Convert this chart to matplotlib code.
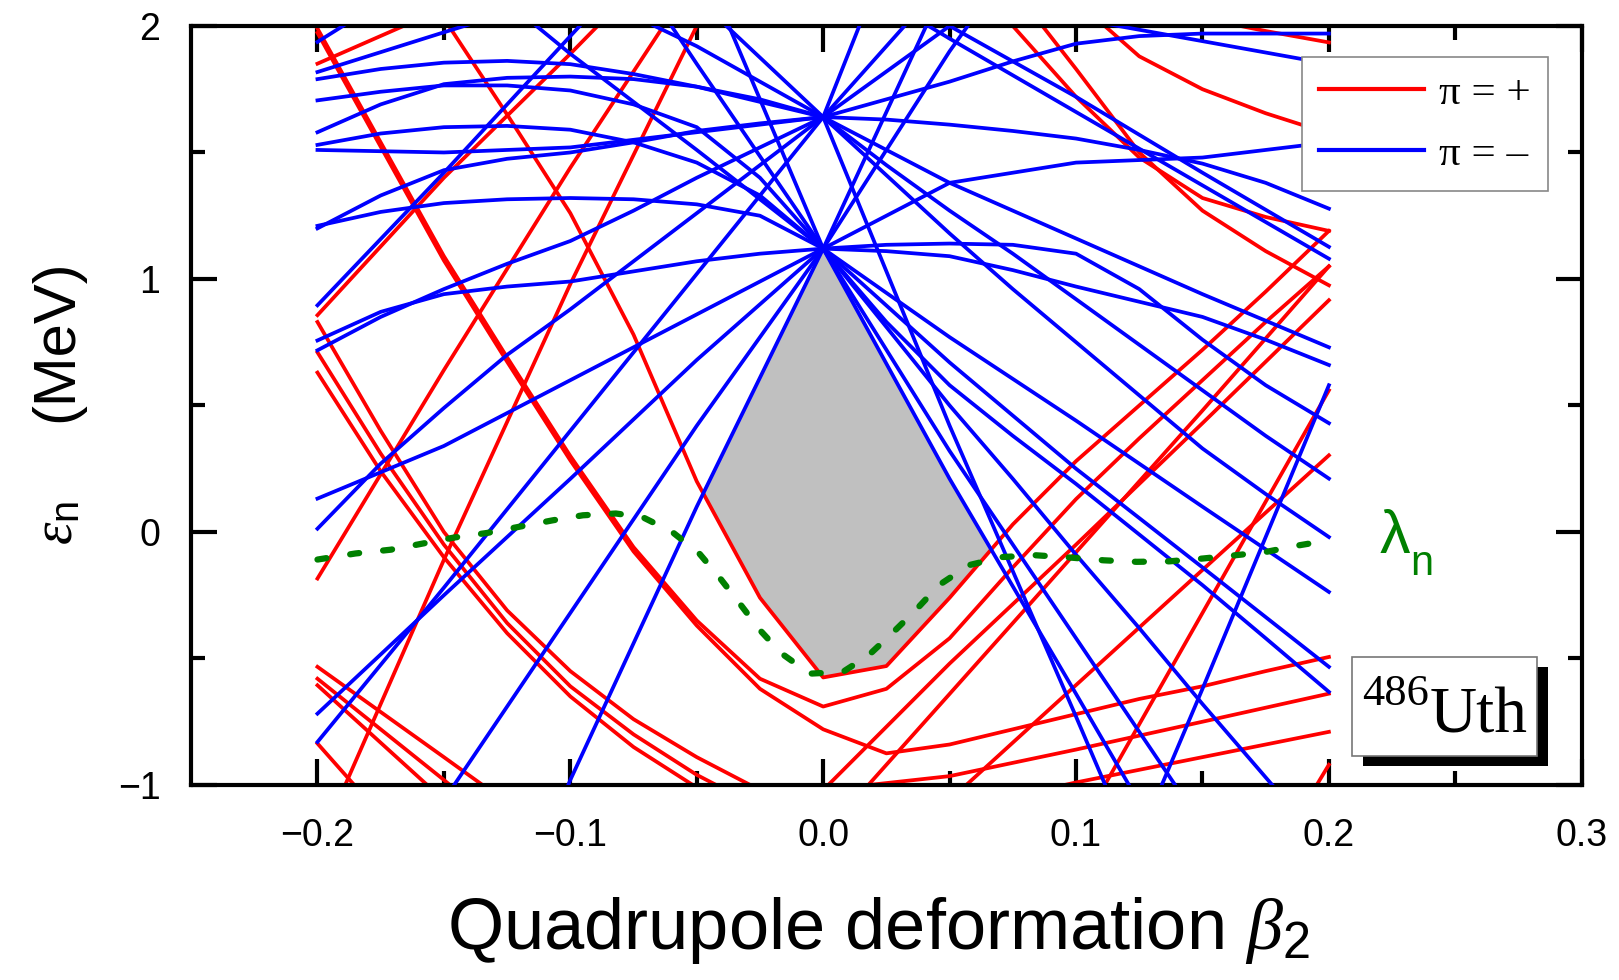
import numpy as np
import matplotlib
matplotlib.use("Agg")
import matplotlib.pyplot as plt
from matplotlib.patches import Rectangle
from matplotlib.lines import Line2D

plt.rcParams['font.family'] = ['Liberation Sans', 'DejaVu Sans']
plt.rcParams['mathtext.fontset'] = 'custom'
plt.rcParams['mathtext.rm'] = 'Liberation Sans'
plt.rcParams['mathtext.it'] = 'Liberation Serif:italic'

# Deformation grids on which the single-particle levels are tabulated
BETA = [-0.2, -0.15, -0.1, -0.05, 0.0, 0.05, 0.1, 0.15, 0.2]
BETA_FINE = [-0.2, -0.175, -0.15, -0.125, -0.1, -0.075, -0.05, -0.025, 0.0,
             0.025, 0.05, 0.075, 0.1, 0.125, 0.15, 0.175, 0.2]

# Negative-parity neutron levels (MeV) on BETA
BLUE_LEVELS = [
    [-3.16, -2.2, -0.98, 0.10, 1.12, 2.2, 3.2, 4.2, 5.2],
    [-1.80, -1.06, -0.32, 0.42, 1.12, 0.21, -0.64, -1.5, -2.36],
    [-0.718, -0.25, 0.21, 0.68, 1.12, 1.90, 2.6, 3.4, 4.1],
    [0.132, 0.34, 0.60, 0.86, 1.12, 0.32, -0.42, -1.16, -1.9],
    [3.4, 3.0, 2.6, 1.85, 1.12, 0.67, 0.25, -0.14, -0.533],
    [4.5, 3.9, 3.2, 2.3, 1.12, 0.77, 0.44, 0.10, -0.237],
    [2.7, 2.3, 1.89, 1.51, 1.12, 1.38, 1.46, 1.48, 1.54],
    [-0.83, -0.22, 0.40, 1.02, 1.64, 2.0, 2.35, 2.7, 3.0],
    [3.6, 3.1, 2.6, 2.11, 1.64, 0.42, -0.73, -1.9, -3.0],
    [1.51, 1.50, 1.52, 1.58, 1.64, 1.38, 1.16, 0.94, 0.73],
    [1.937, 2.25, 2.55, 2.85, 3.15, 3.45, 3.75, 4.05, 4.35],
    [1.818, 1.975, 2.13, 2.3, 2.45, 2.6, 2.75, 2.9, 3.05],
    [0.896, 1.42, 1.96, 2.5, 3.0, 3.5, 4.0, 4.5, 5.0],
    [4.0, 3.6, 3.2, 2.8, 2.3, 2.0, 1.72, 1.42, 1.127],
    [4.0, 3.6, 3.2, 2.75, 2.25, 1.95, 1.66, 1.37, 1.08],
    [4.0, 3.6, 3.2, 2.8, 2.45, 2.2, 2.03, 1.94, 1.85],
    [-9.2, -8.0, -6.8, -5.6, -4.4, -3.0, -1.8, -0.62, 0.58],
]

# Curved negative-parity levels (MeV) on BETA_FINE
BLUE_CURVED = [
    [0.757, 0.87, 0.94, 0.97, 0.99, 1.03, 1.07, 1.10, 1.12, 1.135, 1.14,
     1.135, 1.10, 0.96, 0.76, 0.58, 0.43],
    [1.21, 1.265, 1.30, 1.315, 1.32, 1.315, 1.295, 1.25, 1.12, 1.11, 1.09,
     1.035, 0.97, 0.91, 0.85, 0.76, 0.66],
    [1.706, 1.74, 1.765, 1.765, 1.745, 1.69, 1.60, 1.40, 1.12, 0.81, 0.50,
     0.21, -0.09, -0.38, -0.68, -0.97, -1.26],
    [1.53, 1.575, 1.60, 1.605, 1.59, 1.54, 1.46, 1.33, 1.12, 0.83, 0.58,
     0.38, 0.19, -0.01, -0.21, -0.42, -0.632],
    [1.79, 1.83, 1.855, 1.862, 1.849, 1.81, 1.76, 1.70, 1.64, 1.63, 1.61,
     1.585, 1.555, 1.51, 1.456, 1.38, 1.278],
    [2.6, 2.5, 2.4, 2.28, 2.16, 2.04, 1.92, 1.78, 1.64, 1.71, 1.78, 1.86,
     1.93, 1.96, 1.97, 1.97, 1.97],
    [1.20, 1.33, 1.43, 1.475, 1.50, 1.54, 1.585, 1.615, 1.64, 1.41, 1.18,
     0.96, 0.75, 0.54, 0.33, 0.15, -0.02],
    [0.718, 0.85, 0.96, 1.06, 1.15, 1.27, 1.40, 1.52, 1.64, 1.45, 1.27,
     1.10, 0.92, 0.74, 0.56, 0.38, 0.211],
    [0.013, 0.27, 0.49, 0.70, 0.88, 1.07, 1.26, 1.45, 1.64, 1.92, 2.2, 2.5,
     2.8, 3.1, 3.4, 3.7, 4.0],
    [1.58, 1.69, 1.77, 1.795, 1.80, 1.79, 1.76, 1.71, 1.64, 2.27, 2.9, 3.5,
     4.1, 4.7, 5.4, 6.0, 6.6],
]

# Positive-parity neutron levels (MeV) on BETA
RED_LEVELS = [
    [1.851, 2.07, 2.3, 2.5, 2.7, 2.9, 3.1, 3.3, 3.5],
    [0.857, 1.40, 1.89, 2.4, 2.9, 3.4, 3.9, 4.4, 4.9],
    [-0.184, 0.64, 1.44, 2.2, 3.0, 3.8, 4.6, 5.4, 6.2],
    [-1.25, -0.11, 0.98, 2.0, 3.0, 4.0, 5.0, 6.0, 7.0],
    [-0.533, -0.89, -1.25, -1.6, -1.95, -2.3, -2.65, -3.0, -3.35],
    [-0.58, -0.98, -1.4, -1.8, -2.2, -2.6, -3.0, -3.4, -3.8],
    [-0.606, -1.06, -1.5, -1.95, -2.4, -2.85, -3.3, -3.75, -4.2],
    [-0.836, -1.4, -2.0, -2.6, -3.2, -3.8, -4.4, -5.0, -5.6],
    [-3.0, -2.5, -2.0, -1.5, -1.02, -0.52, -0.05, 0.43, 0.916],
    [-3.5, -2.9, -2.3, -1.7, -1.2, -0.64, -0.08, 0.48, 1.05],
    [-3.0, -2.6, -2.2, -1.8, -1.5, -1.06, -0.605, -0.15, 0.303],
    [-8.0, -7.0, -6.0, -5.0, -3.6, -2.08, -1.2, -0.32, 0.56],
    [-1.6, -1.5, -1.4, -1.3, -1.2, -1.1, -0.99, -0.89, -0.79],
    [-1.4, -1.3, -1.2, -1.1, -1.02, -0.965, -0.86, -0.75, -0.639],
    [-6.0, -5.5, -5.0, -4.5, -4.0, -3.4, -2.6, -1.75, -0.92],
]

# Strongly curved positive-parity levels (MeV) on BETA_FINE
RED_CURVED = [
    [2.8, 2.41, 2.03, 1.65, 1.26, 0.78, 0.20, -0.26, -0.575, -0.53, -0.26,
     0.03, 0.28, 0.50, 0.72, 0.95, 1.19],
    [1.99, 1.54, 1.09, 0.69, 0.30, -0.06, -0.35, -0.58, -0.69, -0.62, -0.42,
     -0.14, 0.13, 0.37, 0.60, 0.83, 1.05],
    [1.973, 1.523, 1.073, 0.673, 0.283, -0.077, -0.37, -0.62, -0.78, -0.875,
     -0.84, -0.78, -0.72, -0.66, -0.61, -0.55, -0.494],
    [3.0, 3.0, 3.0, 3.0, 3.0, 3.0, 3.0, 3.0, 3.0, 2.7, 2.35, 2.0, 1.72, 1.48,
     1.32, 1.245, 1.19],
    [3.0, 3.0, 3.0, 3.0, 3.0, 3.0, 3.0, 3.0, 3.0, 2.9, 2.55, 2.15, 1.83, 1.50,
     1.27, 1.11, 0.975],
    [3.0, 3.0, 3.0, 3.0, 3.0, 3.0, 3.0, 3.0, 3.0, 3.0, 2.7, 2.4, 2.1, 1.88,
     1.75, 1.655, 1.575],
    [2.5, 2.5, 2.5, 2.5, 2.5, 2.5, 2.5, 2.5, 2.5, 2.3, 2.2, 2.17, 2.13, 2.08,
     2.03, 1.98, 1.935],
    [0.83, 0.40, 0.00, -0.31, -0.55, -0.74, -0.89, -1.02, -1.14, -1.26, -1.38,
     -1.5, -1.6, -1.7, -1.8, -1.9, -2.0],
    [0.71, 0.31, -0.05, -0.36, -0.61, -0.80, -0.96, -1.09, -1.21, -1.33,
     -1.45, -1.57, -1.68, -1.79, -1.9, -2.0, -2.1],
    [0.63, 0.24, -0.10, -0.40, -0.65, -0.85, -1.01, -1.14, -1.26, -1.38,
     -1.5, -1.62, -1.73, -1.84, -1.95, -2.05, -2.15],
]

# Neutron Fermi level
LAMBDA_BETA = [-0.2, -0.185, -0.171, -0.146, -0.133, -0.107, -0.095, -0.082,
               -0.0715, -0.0597, -0.049, -0.041, -0.033, -0.025, -0.0165,
               -0.0053, 0.0078, 0.018, 0.0273, 0.0365, 0.0458, 0.0577, 0.071,
               0.084, 0.0976, 0.111, 0.124, 0.137, 0.150, 0.163, 0.175, 0.188,
               0.2]
LAMBDA_E = [-0.109, -0.085, -0.07, -0.022, -0.004, 0.046, 0.066, 0.073, 0.059,
            0.0, -0.085, -0.18, -0.283, -0.388, -0.48, -0.56, -0.553, -0.487,
            -0.40, -0.31, -0.21, -0.131, -0.099, -0.092, -0.101, -0.112,
            -0.118, -0.116, -0.105, -0.092, -0.079, -0.053, -0.033]

RED = '#FF0000'
BLUE = '#0000FF'
GREEN = '#008000'

fig = plt.figure(figsize=(16.19, 9.8), dpi=100)
ax = fig.add_axes([0.118, 0.199, 0.859, 0.7745])

# Shaded gap between the two blue levels from the lower node and the red level below
b = np.linspace(-0.07, 0.08, 600)
upper = np.minimum(np.interp(b, BETA, BLUE_LEVELS[0]), np.interp(b, BETA, BLUE_LEVELS[1]))
lower = np.interp(b, BETA_FINE, RED_CURVED[0])
ax.fill_between(b, lower, upper, where=upper > lower, color='#C0C0C0', lw=0, zorder=1)

lw = 2.7
for lev in RED_LEVELS:
    ax.plot(BETA, lev, color=RED, lw=lw, zorder=2)
for lev in RED_CURVED:
    ax.plot(BETA_FINE, lev, color=RED, lw=lw, zorder=2)
for lev in BLUE_LEVELS:
    ax.plot(BETA, lev, color=BLUE, lw=lw, zorder=3)
for lev in BLUE_CURVED:
    ax.plot(BETA_FINE, lev, color=BLUE, lw=lw, zorder=3)

ax.plot(LAMBDA_BETA, LAMBDA_E, color=GREEN, lw=4.5, dashes=(1.45, 3.85),
        dash_capstyle='round', zorder=4)

ax.set_xlim(-0.25, 0.3)
ax.set_ylim(-1, 2)
ax.set_xticks([-0.2, -0.1, 0.0, 0.1, 0.2, 0.3])
ax.set_xticklabels(['\u22120.2', '\u22120.1', '0.0', '0.1', '0.2', '0.3'])
ax.set_xticks([-0.15, -0.05, 0.05, 0.15, 0.25], minor=True)
ax.set_yticks([-1, 0, 1, 2])
ax.set_yticklabels(['\u22121', '0', '1', '2'])
ax.set_yticks([-0.5, 0.5, 1.5], minor=True)
ax.tick_params(which='both', direction='in', top=True, right=True, width=3,
               labelsize=27)
ax.tick_params(which='major', length=19)
ax.tick_params(which='minor', length=10)
ax.tick_params(axis='x', pad=24)
ax.tick_params(axis='y', pad=22)
for sp in ax.spines.values():
    sp.set_linewidth(3)

ax.set_xlabel(r'Quadrupole deformation $\beta_2$', fontsize=52)
ax.xaxis.set_label_coords(0.494, -0.145)

# Vertical axis title: symbol and unit set separately
ax.text(-0.0963, 0.585, '(MeV)', transform=ax.transAxes, rotation=90,
        ha='center', va='center', fontsize=43)
ax.text(-0.096, 0.345, r'$\varepsilon_{\rm n}$', transform=ax.transAxes,
        rotation=90, ha='center', va='center', fontsize=41)

handles = [Line2D([], [], color=RED, lw=3), Line2D([], [], color=BLUE, lw=3)]
leg = ax.legend(handles, ['\u03c0 = +', '\u03c0 = \u2013'], loc='upper right',
                bbox_to_anchor=(0.976, 0.959), bbox_transform=ax.transAxes,
                frameon=True, fancybox=False, framealpha=1, edgecolor='#888888',
                handlelength=2.45, handletextpad=0.35, labelspacing=0.5,
                borderaxespad=0, borderpad=0.4,
                prop={'family': 'Liberation Serif', 'size': 31})
leg.get_frame().set_linewidth(1.2)

# Nucleus tag with a drop shadow
ax.add_patch(Rectangle((0.8426, 0.025), 0.1331, 0.131, transform=ax.transAxes,
                       facecolor='black', edgecolor='none', zorder=6))
ax.add_patch(Rectangle((0.8346, 0.038), 0.1331, 0.131, transform=ax.transAxes,
                       facecolor='white', edgecolor='#777777', lw=1.2, zorder=7))
ax.text(0.842, 0.105, '486', transform=ax.transAxes, fontsize=32,
        family='Liberation Serif', ha='left', va='baseline', zorder=8)
ax.text(0.8907, 0.0685, 'Uth', transform=ax.transAxes, fontsize=47,
        family='Liberation Serif', ha='left', va='baseline', zorder=8)

ax.text(0.226, -0.02, '\u03bb', fontsize=44, color=GREEN, ha='center', va='center')
ax.text(0.2367, -0.128, 'n', fontsize=30, color=GREEN, ha='center', va='center')

fig.savefig('out.png', dpi=100)
